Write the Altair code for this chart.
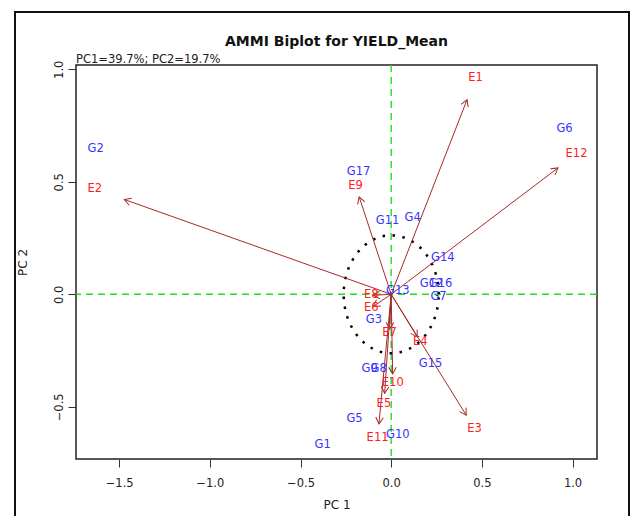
import math

import altair as alt
import numpy as np
import pandas as pd

# Environment scores (first two interaction principal components)
env_names = ["E1", "E2", "E3", "E4", "E5", "E6", "E7", "E8", "E9", "E10", "E11", "E12"]
env_pc1 = [0.465, -1.635, 0.460, 0.160, -0.040, -0.110, -0.009, -0.110, -0.196, 0.009, -0.075, 1.022]
env_pc2 = [0.961, 0.468, -0.597, -0.211, -0.489, -0.060, -0.171, -0.005, 0.481, -0.393, -0.640, 0.624]

# Genotype scores
gen_names = ["G1", "G2", "G3", "G4", "G5", "G6", "G7", "G8", "G9", "G10",
             "G11", "G12", "G13", "G14", "G15", "G16", "G17"]
gen_pc1 = [-0.378, -1.630, -0.095, 0.118, -0.202, 0.956, 0.261, -0.069, -0.119, 0.037,
           -0.020, 0.223, 0.037, 0.285, 0.217, 0.272, -0.180]
gen_pc2 = [-0.670, 0.646, -0.114, 0.339, -0.556, 0.735, -0.012, -0.332, -0.332, -0.625,
           0.326, 0.046, 0.016, 0.160, -0.311, 0.046, 0.544]

x_ticks = [-1.5, -1.0, -0.5, 0.0, 0.5, 1.0]
y_ticks = [-0.5, 0.0, 0.5, 1.0]

X_DOMAIN = [-1.738, 1.135]
Y_DOMAIN = [-0.732, 1.019]
W, H = 521, 394
ARROW_SHRINK = 0.9       # arrows stop at 90% of the environment score
CIRCLE_RADIUS = 0.262    # reference circle around the origin

FONT = "DejaVu Sans"
BROWN = "#a52a2a"

# pixels per data unit, used to orient the arrow heads on screen
sx = W / (X_DOMAIN[1] - X_DOMAIN[0])
sy = H / (Y_DOMAIN[1] - Y_DOMAIN[0])

env = pd.DataFrame({"name": env_names, "pc1": env_pc1, "pc2": env_pc2})
env["x0"] = 0.0
env["y0"] = 0.0
env["tip1"] = env["pc1"] * ARROW_SHRINK
env["tip2"] = env["pc2"] * ARROW_SHRINK
env["angle"] = [math.degrees(math.atan2(a * sx, b * sy)) % 360
                for a, b in zip(env["tip1"], env["tip2"])]

gen = pd.DataFrame({"name": gen_names, "pc1": gen_pc1, "pc2": gen_pc2})

t = np.linspace(0, 2 * np.pi, 241)
circle = pd.DataFrame({"pc1": CIRCLE_RADIUS * np.cos(t),
                       "pc2": CIRCLE_RADIUS * np.sin(t),
                       "k": np.arange(len(t))})

origin = pd.DataFrame({"pc1": [0.0], "pc2": [0.0]})
one = pd.DataFrame({"a": [0]})

x_scale = alt.Scale(domain=X_DOMAIN, nice=False, zero=False)
y_scale = alt.Scale(domain=Y_DOMAIN, nice=False, zero=False)
x_axis = alt.Axis(values=x_ticks, format=".1f", title="PC 1", grid=False, domain=False,
                  tickSize=8, tickColor="#333", labelPadding=10, labelFontSize=11.5,
                  labelFont=FONT, labelColor="#222", titleFont=FONT, titleFontSize=12,
                  titleFontWeight="normal", titleColor="#222", titleBaseline="alphabetic",
                  titleY=49)
y_axis = alt.Axis(values=y_ticks, format=".1f", title="PC 2", grid=False, domain=False,
                  tickSize=8, tickColor="#333", labelPadding=6, labelFontSize=11.5,
                  labelFont=FONT, labelColor="#222", labelAngle=270, labelAlign="center",
                  labelBaseline="alphabetic", titleFont=FONT, titleFontSize=12,
                  titleFontWeight="normal", titleColor="#222", titleAngle=270,
                  titleBaseline="alphabetic", titleX=-50)


def X(field):
    return alt.X(field, type="quantitative", scale=x_scale, axis=x_axis)


def Y(field):
    return alt.Y(field, type="quantitative", scale=y_scale, axis=y_axis)


vline = alt.Chart(origin).mark_rule(color="#1ee01e", strokeDash=[7, 5], strokeWidth=1.4).encode(
    x=X("pc1"))
hline = alt.Chart(origin).mark_rule(color="#1ee01e", strokeDash=[7, 5], strokeWidth=1.4).encode(
    y=Y("pc2"))

ring = alt.Chart(circle).mark_line(color="black", strokeDash=[2.5, 7.5], strokeWidth=2.5,
                                   strokeCap="butt").encode(
    x=X("pc1"), y=Y("pc2"), order="k:Q")

shafts = alt.Chart(env).mark_rule(color=BROWN, strokeWidth=1).encode(
    x=X("x0"), y=Y("y0"), x2="tip1", y2="tip2")

heads = alt.Chart(env).mark_point(
    shape="M -0.5 0.866 L 0 0 L 0.5 0.866", filled=False, size=230,
    color=BROWN, strokeWidth=1, opacity=1).encode(
    x=X("tip1"), y=Y("tip2"), angle=alt.Angle("angle:Q", scale=None))

env_text = alt.Chart(env).mark_text(font=FONT, fontSize=11.5, color="#ff2020").encode(
    x=X("pc1"), y=Y("pc2"), text="name:N")

gen_text = alt.Chart(gen).mark_text(font=FONT, fontSize=11.5, color="#3535ff").encode(
    x=X("pc1"), y=Y("pc2"), text="name:N")

title = alt.Chart(one).mark_text(
    text="AMMI Biplot for YIELD_Mean", font=FONT, fontSize=14, fontWeight="bold",
    color="#111", align="center", baseline="alphabetic").encode(
    x=alt.value(W / 2), y=alt.value(-19))

subtitle = alt.Chart(one).mark_text(
    text="PC1=39.7%; PC2=19.7%", font=FONT, fontSize=11.5, color="#222",
    align="left", baseline="alphabetic").encode(
    x=alt.value(0), y=alt.value(-2))

frame = alt.Chart(one).mark_rect(fillOpacity=0, stroke="#111", strokeWidth=2).encode(
    x=alt.value(15 - 76), x2=alt.value(629 - 76), y=alt.value(12 - 65), y2=alt.value(H + 90))

chart = alt.layer(
    frame, vline, hline, ring, shafts, heads, gen_text, env_text, title, subtitle
).properties(
    width=W, height=H,
    autosize=alt.AutoSizeParams(type="none"),
    padding={"left": 76, "top": 65, "right": 630 - 76 - W, "bottom": 516 - 65 - H},
    background="white",
).configure_view(stroke="#222", strokeWidth=1.5)

chart.save("out.html", embed_options={"renderer": "svg", "actions": False})
